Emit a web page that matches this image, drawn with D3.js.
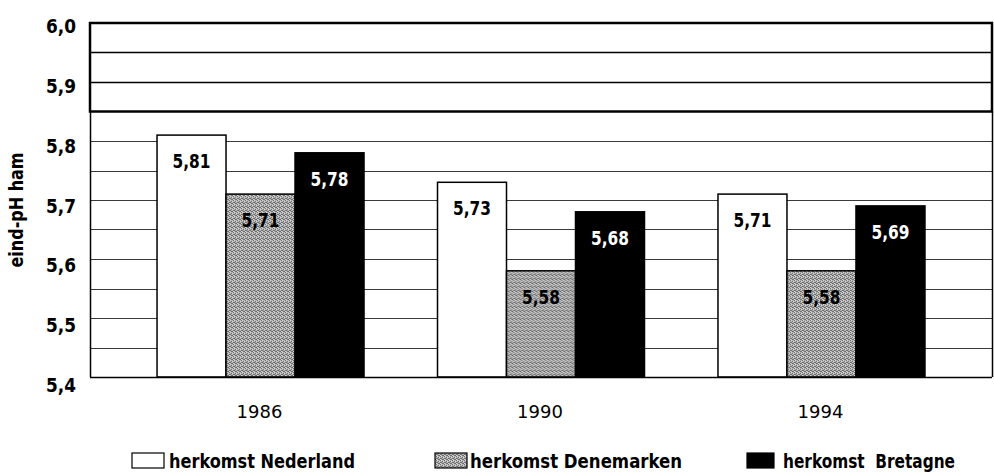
<!DOCTYPE html>
<html>
<head>
<meta charset="utf-8">
<script src="https://cdn.jsdelivr.net/npm/d3@7"></script>
<style>
  html, body { margin: 0; padding: 0; background: #fff; }
  svg { display: block; }
  .cond { font-family: "Liberation Sans Narrow", "DejaVu Sans Condensed", "DejaVu Sans", sans-serif; font-weight: bold; }
</style>
</head>
<body>
<svg id="chart" width="994" height="472"></svg>
<script>
// eind-pH ham per herkomst, 1986 / 1990 / 1994
const years = ["1986", "1990", "1994"];
const seriesNames = ["herkomst Nederland", "herkomst Denemarken", "herkomst  Bretagne"];
const nederland = [5.81, 5.73, 5.71];
const denemarken = [5.71, 5.58, 5.58];
const bretagne = [5.78, 5.68, 5.69];
const yTicks = [5.4, 5.5, 5.6, 5.7, 5.8, 5.9, 6.0];
const yTitle = "eind-pH ham";

const series = [nederland, denemarken, bretagne];

const svg = d3.select("#chart");
const plotLeft = 90, plotRight = 992, plotTop = 23, plotBottom = 377;

const comma = f => v => d3.format(f)(v).replace(".", ",");

// dithered grey fill
const defs = svg.append("defs");
const pat = defs.append("pattern")
  .attr("id", "dither").attr("width", 4).attr("height", 4)
  .attr("patternUnits", "userSpaceOnUse");
pat.append("rect").attr("width", 4).attr("height", 4).attr("fill", "#b4b4b4");
[[0,0],[2,1],[1,2],[3,3],[2,3],[0,2]].forEach(([px, py]) =>
  pat.append("rect").attr("x", px).attr("y", py).attr("width", 1).attr("height", 1).attr("fill", "#6e6e6e"));
[[1,0],[3,1],[0,3]].forEach(([px, py]) =>
  pat.append("rect").attr("x", px).attr("y", py).attr("width", 1).attr("height", 1).attr("fill", "#d8d8d8"));

const fills = ["#ffffff", "url(#dither)", "#000000"];
const labelColors = ["#000", "#000", "#fff"];

const y = d3.scaleLinear().domain([5.4, 6.0]).range([plotBottom, plotTop]);
// tick labels sit on a slightly taller scale than the grid
const yLabel = d3.scaleLinear().domain([5.4, 6.0]).range([385, 26]);
const x0 = d3.scaleBand().domain(years).range([plotLeft, plotRight])
  .paddingInner(0.262).paddingOuter(0.239);
const x1 = d3.scaleBand().domain(d3.range(series.length)).range([0, x0.bandwidth()]);

// gridlines in the lower region (every 0,05)
const lowerGrid = d3.range(5.45, 5.849, 0.05);
svg.append("g").selectAll("line").data(lowerGrid).join("line")
  .attr("x1", plotLeft).attr("x2", plotRight)
  .attr("y1", d => Math.round(y(d)) + 0.5).attr("y2", d => Math.round(y(d)) + 0.5)
  .attr("stroke", "#3a3a3a").attr("stroke-width", 1);

// upper boxed region 5,85 – 6,0
const upperGrid = [5.9, 5.95];
svg.append("g").selectAll("line").data(upperGrid).join("line")
  .attr("x1", plotLeft).attr("x2", plotRight)
  .attr("y1", d => Math.round(y(d)) + 0.5).attr("y2", d => Math.round(y(d)) + 0.5)
  .attr("stroke", "#000").attr("stroke-width", 1.5);
svg.append("rect")
  .attr("x", plotLeft).attr("y", y(6.0))
  .attr("width", plotRight - plotLeft).attr("height", y(5.85) - y(6.0))
  .attr("fill", "none").attr("stroke", "#000").attr("stroke-width", 2.5);

// lower frame
svg.append("line").attr("x1", plotLeft + 0.5).attr("x2", plotLeft + 0.5)
  .attr("y1", y(5.85)).attr("y2", plotBottom).attr("stroke", "#000").attr("stroke-width", 1.5);
svg.append("line").attr("x1", plotRight + 0.5).attr("x2", plotRight + 0.5)
  .attr("y1", y(5.85)).attr("y2", plotBottom).attr("stroke", "#000").attr("stroke-width", 1.5);

// bars
const groups = svg.append("g").selectAll("g").data(years).join("g")
  .attr("transform", d => `translate(${x0(d)},0)`);

groups.each(function(yr, i) {
  const g = d3.select(this);
  series.forEach((s, k) => {
    g.append("rect")
      .attr("x", x1(k)).attr("y", y(s[i]))
      .attr("width", x1.bandwidth()).attr("height", plotBottom - y(s[i]))
      .attr("fill", fills[k]).attr("stroke", "#000").attr("stroke-width", 1.5);
    g.append("text").attr("class", "cond")
      .attr("x", x1(k) + x1.bandwidth() / 2).attr("y", y(s[i]) + 33)
      .attr("text-anchor", "middle")
      .attr("font-size", 19)
      .attr("textLength", 38).attr("lengthAdjust", "spacingAndGlyphs")
      .attr("fill", labelColors[k])
      .text(comma(".2f")(s[i]));
  });
});

// baseline
svg.append("line").attr("x1", plotLeft).attr("x2", plotRight)
  .attr("y1", plotBottom + 0.5).attr("y2", plotBottom + 0.5)
  .attr("stroke", "#000").attr("stroke-width", 1.5);

// y tick labels
svg.append("g").selectAll("text").data(yTicks).join("text")
  .attr("class", "cond")
  .attr("x", 76).attr("y", d => yLabel(d) + 7)
  .attr("text-anchor", "end")
  .attr("font-size", 19)
  .attr("textLength", 30).attr("lengthAdjust", "spacingAndGlyphs")
  .text(comma(".1f"));

// y title
svg.append("text").attr("class", "cond")
  .attr("transform", "translate(23,210) rotate(-90)")
  .attr("text-anchor", "middle")
  .attr("font-size", 19)
  .attr("textLength", 115).attr("lengthAdjust", "spacingAndGlyphs")
  .text(yTitle);

// x labels
svg.append("g").selectAll("text").data(years).join("text")
  .attr("x", d => x0(d) + x0.bandwidth() / 2 - 1).attr("y", 418)
  .attr("text-anchor", "middle")
  .attr("font-family", "'DejaVu Sans', sans-serif")
  .attr("font-size", 18)
  .text(d => d);

// legend
const legendPos = [
  { sx: 132, sw: 32, tx: 169, tw: 186 },
  { sx: 435, sw: 32, tx: 470, tw: 212 },
  { sx: 747, sw: 27, tx: 783, tw: 172 }
];
const lg = svg.append("g").selectAll("g").data(seriesNames).join("g");
lg.append("rect")
  .attr("x", (d, i) => legendPos[i].sx).attr("y", 453)
  .attr("width", (d, i) => legendPos[i].sw).attr("height", 15)
  .attr("fill", (d, i) => fills[i]).attr("stroke", "#000").attr("stroke-width", 1.2);
lg.append("text").attr("class", "cond")
  .attr("x", (d, i) => legendPos[i].tx).attr("y", 468)
  .attr("font-size", 20)
  .attr("textLength", (d, i) => legendPos[i].tw)
  .attr("lengthAdjust", "spacingAndGlyphs")
  .attr("xml:space", "preserve")
  .style("white-space", "pre")
  .text(d => d);
</script>
</body>
</html>
